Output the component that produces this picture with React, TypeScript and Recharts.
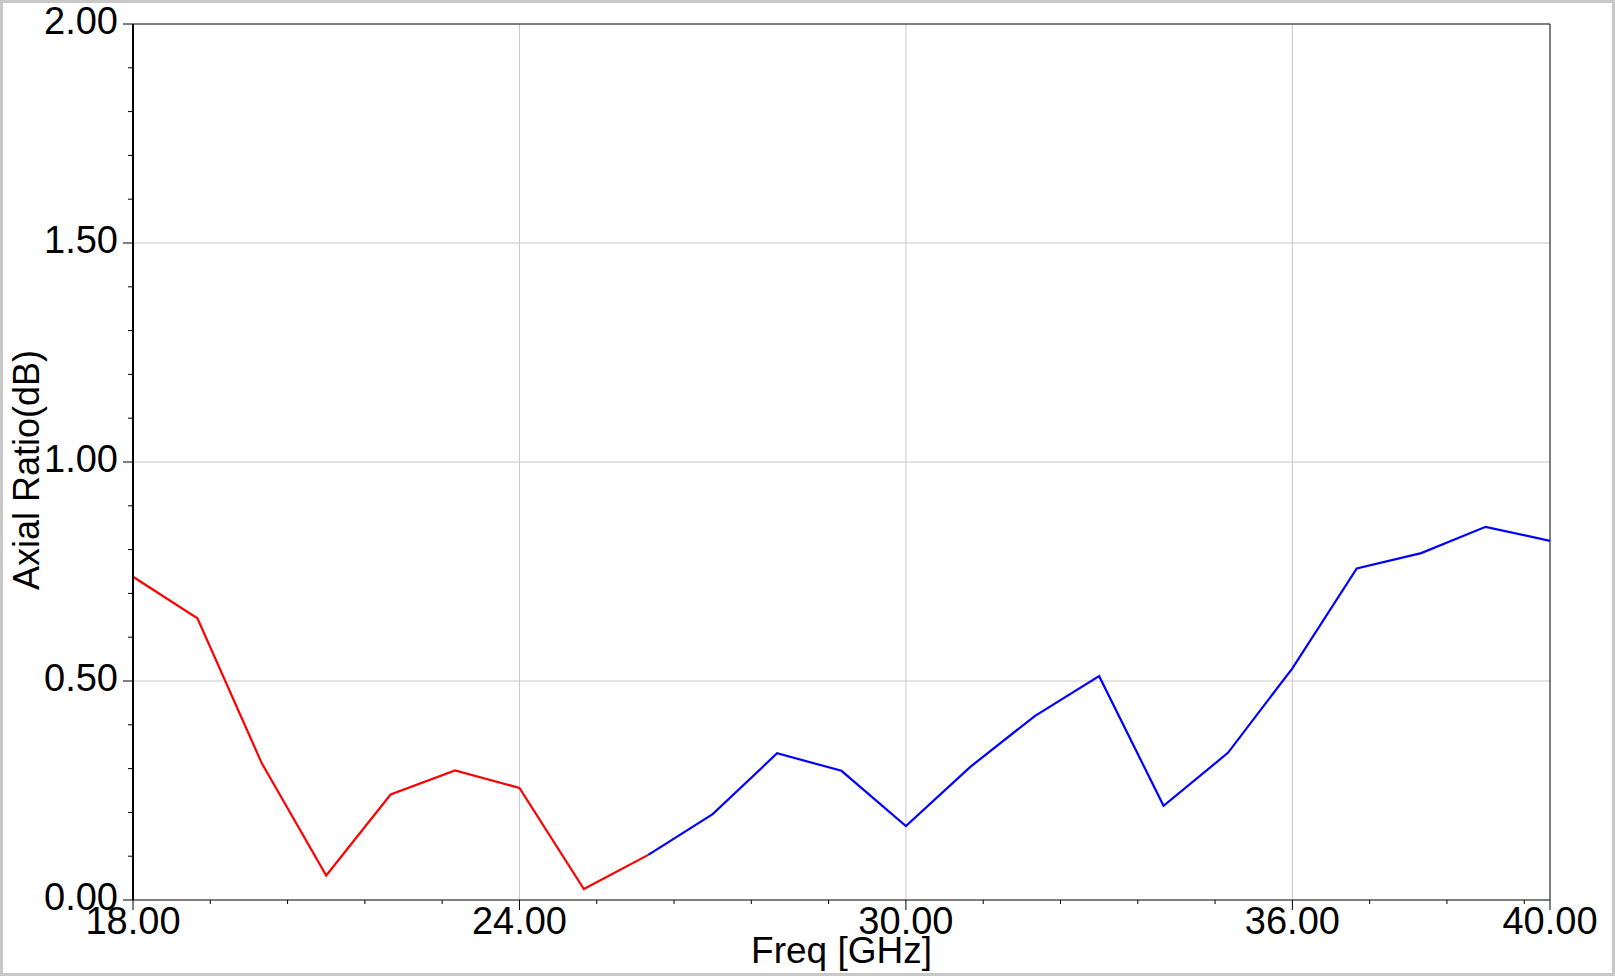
import { LineChart, Line, XAxis, YAxis, ReferenceLine, Label } from "recharts";

// frequency points (GHz)
const freq = [18, 19, 20, 21, 22, 23, 24, 25, 26, 27, 28, 29, 30, 31, 32, 33, 34, 35, 36, 37, 38, 39, 40];
// red trace: 18 .. 26 GHz
const redAR = [0.738, 0.643, 0.312, 0.056, 0.241, 0.296, 0.256, 0.025, 0.103];
// blue trace: 26 .. 40 GHz
const blueAR = [0.103, 0.196, 0.335, 0.295, 0.169, 0.304, 0.42, 0.511, 0.215, 0.336, 0.529, 0.757, 0.792, 0.852, 0.82];

const xMajor = [18, 24, 30, 36, 40];
const xMinor = [19.2, 20.4, 21.6, 22.8, 25.2, 26.4, 27.6, 28.8, 31.2, 32.4, 33.6, 34.8, 37.2, 38.4, 39.6];
const yMajor = [0, 0.5, 1, 1.5, 2];
const yMinor = [0.1, 0.2, 0.3, 0.4, 0.6, 0.7, 0.8, 0.9, 1.1, 1.2, 1.3, 1.4, 1.6, 1.7, 1.8, 1.9];
const xGrid = [24, 30, 36];
const yGrid = [0.5, 1, 1.5];

const blueStart = freq.indexOf(26);
const data = freq.map((f, i) => ({
  f,
  red: i < redAR.length ? redAR[i] : null,
  blue: i >= blueStart ? blueAR[i - blueStart] : null,
}));

const FONT = "'Liberation Sans', Arial, sans-serif";

const XTick = (props: any) => {
  const { x, y, payload } = props;
  const major = xMajor.includes(payload.value);
  return (
    <g>
      <line x1={x} x2={x} y1={y} y2={y + (major ? 10 : 4)} stroke="#000" strokeWidth={1} />
      {major && (
        <text x={x} y={y + 34} textAnchor="middle" fontSize={38} fontFamily={FONT} fill="#000">
          {payload.value.toFixed(2)}
        </text>
      )}
    </g>
  );
};

const YTick = (props: any) => {
  const { x, y, payload } = props;
  const major = yMajor.includes(payload.value);
  return (
    <g>
      <line x1={x - (major ? 10 : 5)} x2={x} y1={y} y2={y} stroke="#000" strokeWidth={1} />
      {major && (
        <text x={x - 15} y={y + 10} textAnchor="end" fontSize={38} fontFamily={FONT} fill="#000">
          {payload.value.toFixed(2)}
        </text>
      )}
    </g>
  );
};

const XTitle = (props: any) => {
  const { x, width } = props.viewBox;
  return (
    <text x={x + width / 2} y={963} textAnchor="middle" fontSize={37} fontFamily={FONT} fill="#000">
      Freq [GHz]
    </text>
  );
};

const YTitle = (props: any) => {
  const { y, height } = props.viewBox;
  const cy = y + height / 2 + 8;
  return (
    <text x={39} y={cy} transform={`rotate(-90, 39, ${cy})`} textAnchor="middle" fontSize={36} fontFamily={FONT} fill="#000">
      Axial Ratio(dB)
    </text>
  );
};

export default function App() {
  return (
    <div style={{ position: "absolute", left: 0, top: 0, width: 1615, height: 976, background: "#fff" }}>
      <LineChart width={1615} height={976} data={data} margin={{ top: 24, right: 65, bottom: 0, left: 0 }}>
        <XAxis
          dataKey="f"
          type="number"
          domain={[18, 40]}
          ticks={[...xMajor, ...xMinor].sort((a, b) => a - b)}
          interval={0}
          height={76}
          tickSize={0}
          tickMargin={0}
          tickLine={false}
          tick={XTick}
          axisLine={{ stroke: "#000", strokeWidth: 1 }}
        >
          <Label content={XTitle} />
        </XAxis>
        <YAxis
          type="number"
          domain={[0, 2]}
          ticks={[...yMajor, ...yMinor].sort((a, b) => a - b)}
          interval={0}
          width={133}
          tickSize={0}
          tickMargin={0}
          tickLine={false}
          tick={YTick}
          axisLine={{ stroke: "#000", strokeWidth: 2 }}
        >
          <Label content={YTitle} />
        </YAxis>
        {xGrid.map((v) => (
          <ReferenceLine key={"gx" + v} x={v} stroke="#c8c8c8" strokeWidth={1} />
        ))}
        {yGrid.map((v) => (
          <ReferenceLine key={"gy" + v} y={v} stroke="#c8c8c8" strokeWidth={1} />
        ))}
        <ReferenceLine y={2} stroke="#000" strokeWidth={1} />
        <ReferenceLine x={40} stroke="#000" strokeWidth={1} />
        <Line type="linear" dataKey="red" stroke="#ff0000" strokeWidth={2.2} dot={false} isAnimationActive={false} />
        <Line type="linear" dataKey="blue" stroke="#0000ff" strokeWidth={2.2} dot={false} isAnimationActive={false} />
      </LineChart>
      <div
        style={{
          position: "absolute",
          inset: 0,
          border: "3px solid #c8c8c8",
          boxSizing: "border-box",
          pointerEvents: "none",
        }}
      />
    </div>
  );
}
